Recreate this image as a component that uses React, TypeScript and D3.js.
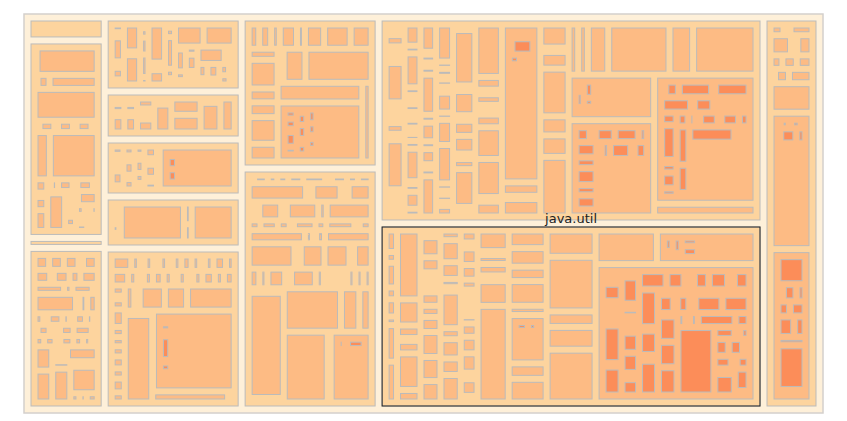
import { useMemo } from 'react';
import * as d3 from 'd3';

// A leaf is a class size; a package (or class with inner classes) has a
// declared size, an own size (space left unused) and its children.
type Spec = number | Pkg;
interface Pkg {
  name: string;
  size: number;
  own: number;
  kids: Spec[];
}
const pkg = (name: string, size: number, kids: Spec[], own = 0): Pkg => ({
  name,
  size,
  own,
  kids,
});

// ─────────────────────────────────────────────────────────────────────────────
// Data
// ─────────────────────────────────────────────────────────────────────────────

const packageNames = [
  'java.applet',
  'java.awt',
  'java.beans',
  'java.io',
  'java.lang',
  'java.math',
  'java.net',
  'java.nio',
  'java.rmi',
  'java.security',
  'java.sql',
  'java.time',
  'java.util',
  'javax',
];
const packageSizes = [
  1771, 15246, 770, 12474, 10138, 6576, 7809, 7124, 22057, 20687, 33017, 79310,
  71610, 21952,
];
// how many packages stack in each column of the top level
const packageColumns = [4, 5, 2, 2, 1];

const appletClasses: Spec[] = [];
const beansClasses: Spec[] = [];

const awtClasses: Spec[] = [
  40, 1200, 30, 121, 484, 1440, 40, 121, 30, 121, 30, 121, 50, 520, 1620, 121,
  40, 121, 190, 30, 60, 121, 40, 130, 40, 30, 480, 40, 30, 60, 200, 50, 40, 80,
  30, 60, 40, 50, 30, 40, 60, 40, 50, 30,
];

const ioClasses: Spec[] = [
  130, 130, 130, 40, 130, 130, 30, 130, 90, 143, 176, 50, 120, 30, 480, 40, 90,
  120, 60, 30, 100, 50, 30, 80, 50, 30, 20, 80, 40, 30, 90, 120, 40, 60, 70, 30,
  80, 60, 50, 40, 255, 336, 30, 60, 40, 270, 80, 363, 30, 60, 430, 50, 40, 60,
];

const langClasses: Spec[] = [
  60, 40, 187, 50, 90, 40, 276, 40, 300, 20, 50, 90, 120, 40, 400, 50, 30, 150,
  20, 60, 200, 60, 40, 400, 435, 20, 150, 60, 30, 60, 120, 30, 20, 50, 300, 60,
  50, 90, 40, 110, 45, 70, 40, 60, 30,
];

const mathClasses: Spec[] = [
  40, 60, 30, 120, 40, 60, 30, 120, 100, 50, 60, 130, 60, 276, 276, 300, 50,
  341, 280,
];

const netUri: Spec[] = [30, 160, 160, 30];
const netClasses: Spec[] = [
  60, 30, 50, 40, 100, 30, 60, 40, 90, 30, 70, 50, 30, 80, 60, 40, 90, 50, 100,
  30, 60, 40, 30, pkg('java.net.URI', 1968, netUri, 1500),
];

const nioClasses: Spec[] = [20, 30, 40, 30, 50, 30, 20, 40, 1800, 120, 100, 1224];

const rmiServer: Spec[] = [
  40, 30, 100, 60, 294, 30, 120, 50, 60, 40, 80, 30, 40, 60, 90, 40,
];
const rmiClasses: Spec[] = [
  250, 110, 60, 110, 80, 110, 60, 110, 130, 110, 60, 110, 160, 110, 200, 110,
  80, 110, 130, 110, 60, 110, 80, 110, 150, 110, 130, 110, 40, 110, 190, 110,
  100, 110, 130, 110, 150, 110, 200, 110,
  525, 462, 990, 100, 1995, 50, pkg('java.rmi.server', 5475, rmiServer, 3800),
  700, 60,
];

const securityCert: Spec[] = [40, 60, 30, 90, 40];
const securityInterfaces: Spec[] = [30, 180, 30, 180, 60];
const securitySpec: Spec[] = [
  130, 150, 40, 210, 110, 40, 150, 170, 60, 130, 150, 130, 40, 110, 60, 150, 30,
  60,
];
const securityClasses: Spec[] = [
  240, 270, 195, 390, 180, 435, 600, 475, 300, 775, 375, 400, 720, 480, 192,
  696, pkg('java.security.cert', 2106, securityCert, 1800),
  pkg('java.security.interfaces', 1560, securityInterfaces, 900),
  pkg('java.security.spec', 4674, securitySpec, 1800), 684,
];

const sqlRowset: Spec[] = [30, 30, 40, 40, 90, 60];
const sqlSpi: Spec[] = [40, 40, 60];
const sqlTypes: Spec[] = [60, 200, 40];
const sqlJdbc: Spec[] = [120, 40, 300, 60];
const sqlClasses: Spec[] = [
  40, 100, 70, 80, 110, 160, 50, 110, 80, 100, 1000, 110, 490, 40, 100, 400, 40,
  110, 40, 390, 100, 560, 150, 800, 110, 160, 110, 40, 200, 100, 260, 50, 110,
  700, 100, 40, 110, 580, 1100, 150, 570, 600, 110, 420, 200, 150, 330, 110,
  460, 150, 110, 120, 110, 100, 150, 150, 150, 150,
  pkg('java.sql.rowset', 3500, sqlRowset, 3000), 150,
  pkg('java.sql.spi', 2352, sqlSpi, 2000), 756, 504,
  pkg('java.sql.types', 2948, sqlTypes, 2500), 200,
  pkg('java.sql.jdbc', 2747, sqlJdbc, 2000),
];

const timeZone: Spec[] = [60, 30, 40];
const timeFormat: Spec[] = [40, 30, 60, 30, 40, 30, 60, 500, 150, 80, 40, 60];
const timeChrono: Spec[] = [200];
const timeTemporal: Spec[] = [40, 30, 60, 30, 40, 90];
const timeAttribute: Spec[] = [60, 40, 150, 60, 200, 110, 80];
const timeField: Spec[] = [
  300, 120, 400, 500, 180, 450, 320, 500, 300, 420, 120, 200, 500, 80, 300, 100,
];
const timeUnit: Spec[] = [
  80, 260, 640, 60, 660, 560, 60, 360, 120, 80, 120, 120, 80, 80, 80, 240, 660,
  60, 180, 300, 160, 200, 120, 80, 300, 60, 300, 180, 600, 440, 60, 900, 100,
  120, 80,
];
const timeClasses: Spec[] = [
  70, 110, 190, 110, 60, 110, 666, 110, 60, 70, 110, 180, 110, 828, 110, 80, 110,
  50, 110, 300, 110, 480, 110, 90, 40, 110, 50, 60, 110, 90, 100, 110, 460,
  40, 110, 240, 110, 380, 40, 110, 60, 110, 560, 110, 260, 110, 210,
  60, 110, 560, 560, 110, 120, 40, 110, 90, 300, 110, 380,
  580, 110, 60, 110, 60, 160, 110, 1100, 110, 480, 110,
  300, 350, 110, 200, 750, 110, 80, pkg('java.time.zone', 1240, timeZone, 900),
  300, 110, 250, 120, 110, 300, 750,
  900, 110, 350, pkg('java.time.format', 5418, timeFormat, 3800), 460, 110,
  600, 580, 110, 420, 1200, 480, 540, 1500,
  430, 430, 912, pkg('java.time.chrono', 2736, timeChrono, 2400), 1056,
  pkg('java.time.temporal', 2832, timeTemporal, 2300),
  pkg('java.time.attribute', 3476, timeAttribute, 2000),
  pkg('java.time.field', 7347, timeField, 3500),
  pkg('java.time.unit', 11776, timeUnit, 4000), 1164,
];

const utilHashMap: Spec[] = [40, 30, 60, 40, 50];
const utilRegex: Spec[] = [200, 150, 40];
const utilZip: Spec[] = [60, 160, 40];
const utilJar: Spec[] = [50, 30, 60, 30, 80, 30];
const utilLogging: Spec[] = [200, 50, 40, 240, 60, 240, 300];
const utilLocks: Spec[] = [60, 60, 60];
const utilConcurrent: Spec[] = [
  120, 100, 300, 60, 80, 100, 100, 80, 650, 60, 500, 100, 420, 80,
  120, 100, 60, 100, 320, 320, 100, 260, 460,
  300, 60, 100, 250, 320, 100, 260, 650, 60, 420, 100, 600,
  100, 60, 100, 80, 100,
  260, 60, 200, 100, 450, 450, 60, 450, 450,
  500, 100, 60, 100, 480, 180, pkg('java.util.concurrent.locks', 2300, utilLocks, 1800),
  220, 60, 100, 220, 220, 100, 200, 60, 150, 100, 400, 300, 60,
];
const utilClasses: Spec[] = [
  220, 110, 253, 121, 176, 88, 374, 418,
  1452, 550, 264, 60, 264, 770, 264,
  120, 360, 270, 90, 90, 90, 90, 240, 200, 270,
  448, 432, 384, 176, 400, 304, 150,
  80, 665, 200, 350, 300, 500, 180, 90,
  250, 220, 150, 100, 100, 100, 100, 110, 200, 250,
  290, 100, 250, 100, 576, 110, 250, 320, 160,
  690, pkg('java.util.HashMap', 2700, utilHashMap, 2300), 600, 630,
  490, 840, 315, pkg('java.util.regex', 1645, utilRegex, 1100), 525, 805, 1155,
  2400, 680, 1000, pkg('java.util.zip', 2320, utilZip, 1900),
  pkg('java.util.jar', 1848, utilJar, 1400),
  pkg('java.util.logging', 3003, utilLogging, 1700),
  pkg('java.util.concurrent', 19980, utilConcurrent),
];

const javaxA: Spec[] = [40, 100, 30, 120, 60, 60, 350, 200];
const javaxB: Spec[] = [506, 60, 150, 100, 120, 150, 220, 150, 150, 805, 100];
const javaxClasses: Spec[] = [
  130, 70, 220, 384, 120, 285, 150, 180, 198, 60, 187, 315, 1155,
  pkg('javax.accessibility', 5343, javaxA, 4000),
  pkg('javax.annotation', 6006, javaxB),
];

const packageContents: Spec[][] = [
  appletClasses, awtClasses, beansClasses, ioClasses,
  langClasses, mathClasses, netClasses, nioClasses, rmiClasses,
  securityClasses, sqlClasses,
  timeClasses, utilClasses,
  javaxClasses,
];

const depthColors = ['#fef0d9', '#fdd49e', '#fdbb84', '#fc8d59', '#ef6548'];
const highlighted = 'java.util';

// ─────────────────────────────────────────────────────────────────────────────
// Hierarchy
// ─────────────────────────────────────────────────────────────────────────────

interface Datum {
  name: string;
  value?: number;
  children?: Datum[];
}

const weightOf = (s: Spec) => (typeof s === 'number' ? s : s.size);

function build(s: Spec, size: number, name: string): Datum {
  if (typeof s === 'number') return { name, value: size };
  if (s.kids.length === 0) return { name: s.name, value: size };
  const k = size / (s.own + d3.sum(s.kids, weightOf));
  return {
    name: s.name,
    value: s.own * k,
    children: s.kids.map((c, i) => build(c, weightOf(c) * k, `${s.name}$${i}`)),
  };
}

// top level: packages stacked in columns, everything below squarified
function tile(
  node: d3.HierarchyRectangularNode<Datum>,
  x0: number,
  y0: number,
  x1: number,
  y1: number,
) {
  if (node.depth > 0) {
    d3.treemapSquarify(node, x0, y0, x1, y1);
    return;
  }
  const kids = node.children ?? [];
  let i = 0;
  let x = x0;
  for (const count of packageColumns) {
    const group = kids.slice(i, i + count);
    const sum = d3.sum(group, (c) => c.value ?? 0);
    const xe = x + ((x1 - x0) * sum) / (node.value ?? 1);
    d3.treemapSlice({ children: group, value: sum } as any, x, y0, xe, y1);
    x = xe;
    i += count;
  }
}

export default function App() {
  const width = 847;
  const height = 421;
  const margin = { left: 24, top: 14, right: 24, bottom: 8 };

  const nodes = useMemo(() => {
    const data: Datum = {
      name: 'java',
      children: packageNames.map((n, i) =>
        build(pkg(n, packageSizes[i], packageContents[i]), packageSizes[i], n),
      ),
    };
    const root = d3
      .hierarchy<Datum>(data)
      .sum((d) => d.value ?? 0);
    d3
      .treemap<Datum>()
      .tile(tile as any)
      .size([
        width - margin.left - margin.right,
        height - margin.top - margin.bottom,
      ])
      .padding(7)(root);
    return (root as d3.HierarchyRectangularNode<Datum>).descendants();
  }, []);

  const focus = nodes.find((n) => n.depth === 1 && n.data.name === highlighted);

  return (
    <svg
      width={width}
      height={height}
      style={{ position: 'absolute', left: 0, top: 0, background: '#fff' }}
    >
      <g transform={`translate(${margin.left},${margin.top})`}>
        {nodes.map((n, i) => {
          const w = n.x1 - n.x0;
          const h = n.y1 - n.y0;
          if (w <= 0 || h <= 0) return null;
          return (
            <rect
              key={i}
              x={n.x0}
              y={n.y0}
              width={w}
              height={h}
              fill={depthColors[Math.min(n.depth, depthColors.length - 1)]}
              stroke={n.depth === 0 ? '#d4d0cc' : '#bbb'}
              strokeWidth={n.depth === 0 ? 1.5 : 1}
            >
              <title>{n.data.name}</title>
            </rect>
          );
        })}
        {focus && (
          <g>
            <rect
              x={focus.x0}
              y={focus.y0}
              width={focus.x1 - focus.x0}
              height={focus.y1 - focus.y0}
              fill='none'
              stroke='#222'
              strokeWidth={1}
            />
            <text
              x={(focus.x0 + focus.x1) / 2}
              y={focus.y0 - 4}
              textAnchor='middle'
              fontFamily='DejaVu Sans, sans-serif'
              fontSize={13}
              fill='#222'
            >
              {focus.data.name}
            </text>
          </g>
        )}
      </g>
    </svg>
  );
}
